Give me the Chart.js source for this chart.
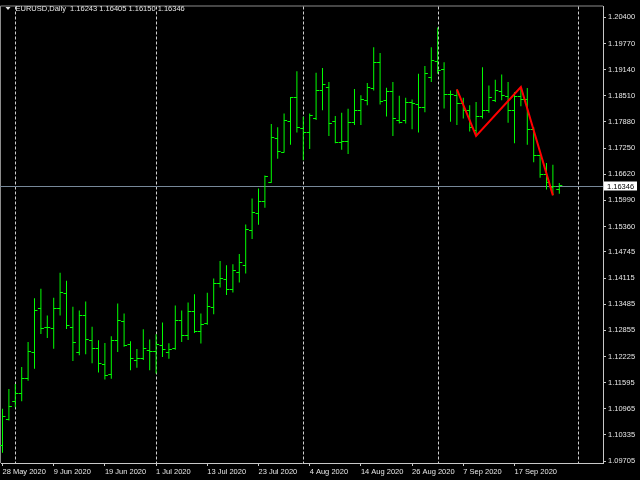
<!DOCTYPE html>
<html>
<head>
<meta charset="utf-8">
<style>
  html, body { margin: 0; padding: 0; background: #000; }
  #wrap { width: 640px; height: 480px; }
</style>
<script src="https://cdn.jsdelivr.net/npm/chart.js@4.4.1/dist/chart.umd.min.js"></script>
</head>
<body>
<div id="wrap"><canvas id="chart" width="640" height="480"></canvas></div>
<script>
// EURUSD daily bars
const symbol = 'EURUSD,Daily';
const firstDay = '2020-05-28';

const opens = [
  1.10087, 1.10700, 1.11144, 1.11335, 1.11694, 1.12324, 1.13374, 1.12928, 1.12911, 1.13374,
  1.13732, 1.12921, 1.12324, 1.13207, 1.12610, 1.12419, 1.12037, 1.11799, 1.12610, 1.13064,
  1.12515, 1.12133, 1.12171, 1.12372, 1.12348, 1.12491, 1.12324, 1.12410, 1.13088, 1.12730,
  1.13303, 1.12825, 1.13023, 1.13412, 1.13995, 1.14081, 1.13828, 1.14250, 1.14424, 1.15260,
  1.15666, 1.15952, 1.16430, 1.17487, 1.17153, 1.17886, 1.18470, 1.17719, 1.17631, 1.17972,
  1.18626, 1.18721, 1.17886, 1.17392, 1.17408, 1.17862, 1.18149, 1.18387, 1.18698, 1.19309,
  1.18387, 1.18602, 1.17910, 1.17910, 1.18354, 1.18299, 1.18220, 1.18960, 1.19342, 1.19142,
  1.18538, 1.18507, 1.18323, 1.18149, 1.17685, 1.18005, 1.18149, 1.18387, 1.18602, 1.18497,
  1.18149, 1.18497, 1.18418, 1.17702, 1.17074, 1.16611, 1.16301, 1.16243
];
const highs = [
  1.10963, 1.11441, 1.11560, 1.11973, 1.12577, 1.13627, 1.13859, 1.13214, 1.13644, 1.14241,
  1.14050, 1.13422, 1.13334, 1.13548, 1.12944, 1.12617, 1.12553, 1.12713, 1.13501, 1.13262,
  1.12594, 1.12403, 1.12880, 1.12634, 1.12761, 1.13047, 1.12546, 1.13453, 1.13334, 1.13525,
  1.13723, 1.13262, 1.13763, 1.14105, 1.14527, 1.14424, 1.14448, 1.14694, 1.15410, 1.16031,
  1.16277, 1.16587, 1.17829, 1.17750, 1.18084, 1.18483, 1.19103, 1.18005, 1.18084, 1.19063,
  1.19182, 1.18841, 1.18020, 1.18101, 1.18196, 1.18674, 1.18521, 1.18817, 1.19683, 1.19540,
  1.18705, 1.18841, 1.18514, 1.18466, 1.18418, 1.19039, 1.19230, 1.19683, 1.20154, 1.19318,
  1.18640, 1.18664, 1.18466, 1.18282, 1.18363, 1.19199, 1.18760, 1.18896, 1.19022, 1.18841,
  1.18602, 1.18721, 1.18700, 1.17750, 1.17089, 1.16891, 1.16850, 1.16405
];
const lows = [
  1.09903, 1.10684, 1.11001, 1.11144, 1.11639, 1.11932, 1.12768, 1.12672, 1.12410, 1.13214,
  1.12887, 1.12116, 1.12252, 1.12276, 1.12061, 1.11837, 1.11670, 1.11686, 1.12331, 1.12457,
  1.11894, 1.11956, 1.12140, 1.11894, 1.11813, 1.12212, 1.12171, 1.12386, 1.12577, 1.12625,
  1.12792, 1.12539, 1.12992, 1.13245, 1.13890, 1.13708, 1.13770, 1.14009, 1.14224, 1.15060,
  1.15403, 1.15809, 1.16413, 1.16993, 1.17146, 1.17327, 1.17623, 1.16955, 1.17225, 1.17924,
  1.18163, 1.17542, 1.17368, 1.17208, 1.17105, 1.17805, 1.17805, 1.18282, 1.18640, 1.18299,
  1.18012, 1.17542, 1.17845, 1.17845, 1.17702, 1.17623, 1.18115, 1.18841, 1.19039, 1.18203,
  1.17886, 1.17805, 1.17965, 1.17647, 1.17542, 1.17965, 1.18101, 1.18363, 1.18402, 1.17862,
  1.17368, 1.18258, 1.17327, 1.16907, 1.16532, 1.16253, 1.16110, 1.16150
];
const closes = [
  1.10779, 1.11025, 1.11321, 1.11694, 1.12348, 1.13341, 1.12911, 1.12925, 1.13388, 1.13756,
  1.12968, 1.12553, 1.13221, 1.12625, 1.12419, 1.12052, 1.11775, 1.12610, 1.13088, 1.12491,
  1.12171, 1.12181, 1.12419, 1.12355, 1.12515, 1.12395, 1.12395, 1.13088, 1.12737, 1.13303,
  1.12832, 1.12992, 1.13422, 1.13995, 1.14114, 1.13828, 1.14288, 1.14479, 1.15284, 1.15697,
  1.15967, 1.16556, 1.17511, 1.17170, 1.17910, 1.18470, 1.17750, 1.17631, 1.18029, 1.18640,
  1.18776, 1.17838, 1.17392, 1.17408, 1.17862, 1.18149, 1.18411, 1.18721, 1.19318, 1.18378,
  1.18602, 1.17972, 1.17876, 1.18354, 1.18316, 1.18220, 1.19039, 1.19373, 1.19118, 1.18545,
  1.18530, 1.18323, 1.18156, 1.17750, 1.18020, 1.18149, 1.18466, 1.18640, 1.18521, 1.18163,
  1.18497, 1.18418, 1.17702, 1.17074, 1.16611, 1.16413, 1.16317, 1.16346
];

// zigzag turning points (bar index, price)
const zigzagIdx = [71, 74, 81, 86];
const zigzagVal = [1.18664, 1.17542, 1.18721, 1.16110];

// price axis labels as printed by the terminal
const priceTicks = [
  1.20400, 1.19770, 1.19140, 1.18510, 1.17880, 1.17250, 1.16620, 1.15990, 1.15360,
  1.14745, 1.14115, 1.13485, 1.12855, 1.12225, 1.11595, 1.10965, 1.10335, 1.09705
];
const priceMin = 1.09657;
const priceMax = 1.20663;

// visible bar window (bar units), future space on the right
const barMin = -0.234;
const barMax = 93.83;
const labelStep = 8;

const monthNames = ['Jan', 'Feb', 'Mar', 'Apr', 'May', 'Jun', 'Jul', 'Aug', 'Sep', 'Oct', 'Nov', 'Dec'];

// weekdays only, like a forex daily chart
function tradingDays(start, n) {
  const out = [];
  const d = new Date(start + 'T00:00:00Z');
  while (out.length < n) {
    const wd = d.getUTCDay();
    if (wd !== 0 && wd !== 6) out.push(new Date(d.getTime()));
    d.setUTCDate(d.getUTCDate() + 1);
  }
  return out;
}

const days = tradingDays(firstDay, Math.ceil(barMax) + 1);
const fmtDay = (d) => d.getUTCDate() + ' ' + monthNames[d.getUTCMonth()] + ' ' + d.getUTCFullYear();

const labelIdx = [];
for (let i = 0; i < opens.length; i += labelStep) labelIdx.push(i);

const separators = [];
for (let i = 1; i < days.length; i++) {
  if (days[i].getUTCMonth() !== days[i - 1].getUTCMonth() && i <= barMax) separators.push(i);
}

const barColor = '#00ff00';
const axisColor = '#c8c8c8';
const textColor = '#e6e6e6';
const fontFamily = '"Liberation Sans", Arial, sans-serif';
const fontSize = 7.5;

const last = opens.length - 1;

const mtPlugin = {
  id: 'mt4',
  beforeDraw(chart) {
    const ctx = chart.ctx;
    ctx.save();
    ctx.fillStyle = '#000';
    ctx.fillRect(0, 0, chart.width, chart.height);
    ctx.restore();
  },
  beforeDatasetsDraw(chart) {
    const {ctx, chartArea: a, scales: {x, y}} = chart;
    ctx.save();

    // frame top / left
    ctx.strokeStyle = '#8c8c8c';
    ctx.lineWidth = 1;
    ctx.beginPath();
    ctx.moveTo(a.left - 0.5, a.bottom);
    ctx.lineTo(a.left - 0.5, a.top - 0.5);
    ctx.lineTo(a.right, a.top - 0.5);
    ctx.stroke();

    // month separators
    ctx.strokeStyle = '#d0d0d0';
    ctx.setLineDash([3, 2]);
    separators.forEach((i) => {
      const px = Math.round(x.getPixelForValue(i)) + 0.5;
      ctx.beginPath();
      ctx.moveTo(px, a.top);
      ctx.lineTo(px, a.bottom);
      ctx.stroke();
    });
    ctx.setLineDash([]);

    // bid line
    const by = Math.round(y.getPixelForValue(closes[last])) + 0.5;
    ctx.strokeStyle = '#778899';
    ctx.beginPath();
    ctx.moveTo(0, by);
    ctx.lineTo(a.right, by);
    ctx.stroke();

    // open / close ticks
    ctx.fillStyle = barColor;
    for (let i = 0; i < opens.length; i++) {
      const px = x.getPixelForValue(i);
      const oy = Math.floor(y.getPixelForValue(opens[i]));
      const cy = Math.floor(y.getPixelForValue(closes[i]));
      ctx.fillRect(px - 3, oy, 3, 1);
      ctx.fillRect(px, cy, 3, 1);
    }
    ctx.restore();
  },
  afterDraw(chart) {
    const {ctx, chartArea: a, scales: {y}} = chart;
    ctx.save();
    ctx.font = fontSize + 'px ' + fontFamily;
    ctx.textBaseline = 'middle';

    // header
    ctx.fillStyle = textColor;
    ctx.beginPath();
    ctx.moveTo(5.5, 7);
    ctx.lineTo(10.5, 7);
    ctx.lineTo(8, 10);
    ctx.closePath();
    ctx.fill();
    const hdr = symbol + '  ' + [opens[last], highs[last], lows[last], closes[last]].map((v) => v.toFixed(5)).join(' ');
    ctx.fillText(hdr, 15.5, 8.5);

    // current price label
    const py = y.getPixelForValue(closes[last]);
    ctx.fillStyle = '#ffffff';
    ctx.fillRect(a.right + 1, Math.round(py) - 4.5, 33, 9);
    ctx.fillStyle = '#000000';
    ctx.fillText(closes[last].toFixed(5), a.right + 4, Math.round(py) + 0.5);
    ctx.restore();
  }
};

new Chart(document.getElementById('chart'), {
  type: 'bar',
  data: {
    datasets: [
      {
        type: 'line',
        data: zigzagIdx.map((v, k) => ({x: v, y: zigzagVal[k]})),
        borderColor: '#ff0000',
        borderWidth: 2,
        pointRadius: 0,
        tension: 0,
        order: 0
      },
      {
        data: opens.map((_, i) => ({x: i, y: [lows[i], highs[i]]})),
        backgroundColor: barColor,
        borderWidth: 0,
        barThickness: 1,
        inflateAmount: 0,
        order: 1
      }
    ]
  },
  options: {
    responsive: false,
    devicePixelRatio: 1,
    animation: false,
    events: [],
    layout: {padding: {left: 1, top: 2, right: 0, bottom: 0}},
    plugins: {legend: {display: false}, tooltip: {enabled: false}},
    font: {family: fontFamily, size: fontSize},
    scales: {
      x: {
        type: 'linear',
        min: barMin,
        max: barMax,
        offset: false,
        afterBuildTicks: (s) => { s.ticks = labelIdx.map((v) => ({value: v})); },
        afterFit: (s) => { s.height = 17; },
        grid: {display: true, drawOnChartArea: false, offset: false, tickLength: 3, tickColor: axisColor},
        border: {display: true, color: axisColor},
        ticks: {
          autoSkip: false,
          maxRotation: 0,
          minRotation: 0,
          align: 'start',
          padding: 1,
          color: textColor,
          font: {family: fontFamily, size: fontSize},
          callback: (v) => fmtDay(days[v])
        }
      },
      y: {
        type: 'linear',
        position: 'right',
        min: priceMin,
        max: priceMax,
        afterBuildTicks: (s) => { s.ticks = priceTicks.map((v) => ({value: v})); },
        afterFit: (s) => { s.width = 37; },
        grid: {display: true, drawOnChartArea: false, tickLength: 3, tickColor: axisColor},
        border: {display: true, color: axisColor},
        ticks: {
          padding: 2,
          color: textColor,
          font: {family: fontFamily, size: fontSize},
          callback: (v) => v.toFixed(5)
        }
      }
    }
  },
  plugins: [mtPlugin]
});
</script>
</body>
</html>
